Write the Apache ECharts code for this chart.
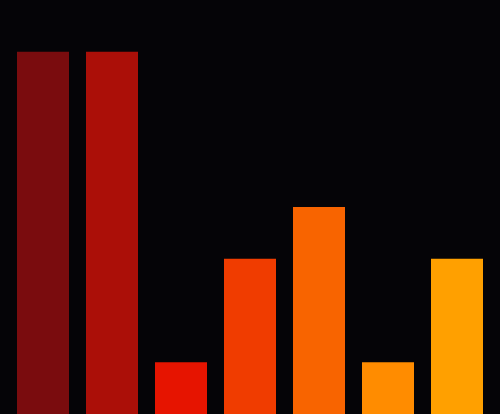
<!DOCTYPE html>
<html>
<head>
<meta charset="utf-8">
<script src="https://cdn.jsdelivr.net/npm/echarts@6/dist/echarts.min.js"></script>
<style>
  html, body { margin: 0; padding: 0; background: #050407; }
  #main { width: 500px; height: 414px; }
</style>
</head>
<body>
<div id="main"></div>
<script>
var categories = ['A', 'B', 'C', 'D', 'E', 'F', 'G'];
var values = [7, 7, 1, 3, 4, 1, 3];
var barColors = ['#7a0c0e', '#ab0f08', '#e61400', '#f03c00', '#f86400', '#ff8c00', '#ffa000'];

var myChart = echarts.init(document.getElementById('main'));

var option = {
    backgroundColor: '#050407',
    animation: false,
    grid: {
        left: 8.5,
        right: 8.5,
        top: 0,
        bottom: 0
    },
    xAxis: {
        type: 'category',
        data: categories,
        show: false
    },
    yAxis: {
        type: 'value',
        min: 0,
        max: 8,
        show: false
    },
    series: [{
        type: 'bar',
        barWidth: 52,
        data: values.map(function (v, i) {
            return {
                value: v,
                itemStyle: { color: barColors[i] }
            };
        })
    }]
};

myChart.setOption(option);
</script>
</body>
</html>
